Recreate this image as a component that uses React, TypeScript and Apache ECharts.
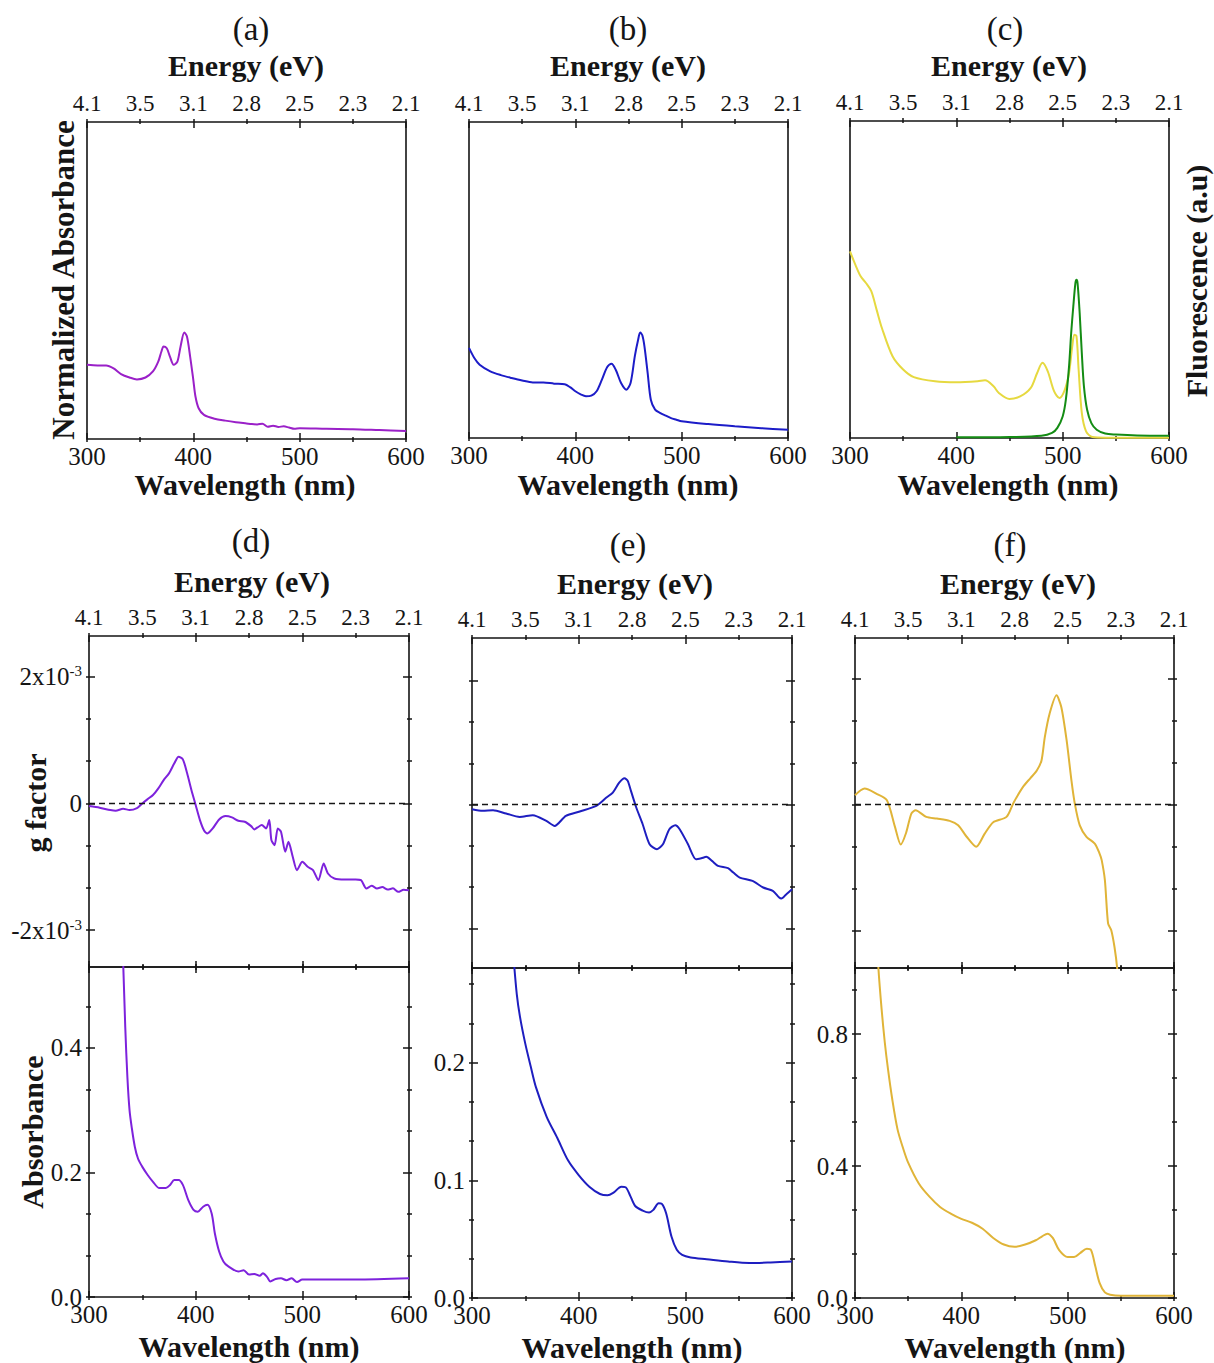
import React, { useEffect, useRef } from "react";
import * as echarts from "echarts";

const SERIF = "'Liberation Serif', 'Times New Roman', Times, serif";
const INK = "#151515";

// ---------- tick values / labels ----------
const energyTickWavelengths = [300, 350, 400, 450, 500, 550, 600];
const energyTickLabels = ["4.1", "3.5", "3.1", "2.8", "2.5", "2.3", "2.1"];
const gMajorTicks = [-2, 0, 2];
const gMajorLabels = ["-2x10", "0", "2x10"];
const gMajorSup = ["-3", "", "-3"];
const gMinorTicks = [-1.333, -0.667, 0.667, 1.333];
const absDMajor = [0, 0.2, 0.4];
const absDMinor = [0.0667, 0.1333, 0.2667, 0.3333, 0.4667];
const absEMajor = [0, 0.1, 0.2];
const absEMinor = [0.0333, 0.0667, 0.1333, 0.1667, 0.2333, 0.2667];
const absFMajor = [0, 0.4, 0.8];
const absFMinor = [0.1333, 0.2667, 0.5333, 0.6667, 0.9333];

// ---------- (a) normalized absorbance ----------
const wlA = [300, 310, 318, 325, 332, 340, 347, 355, 362, 367, 370, 372, 375, 378, 381.5, 385, 388, 391.5, 394, 397, 400, 402, 405, 410, 420, 430, 440, 450, 455, 460, 465, 470, 475, 480, 485, 490, 495, 500, 525, 550, 575, 600];
const absA = [0.234, 0.232, 0.232, 0.223, 0.205, 0.194, 0.188, 0.194, 0.213, 0.244, 0.276, 0.292, 0.286, 0.26, 0.234, 0.244, 0.292, 0.336, 0.323, 0.26, 0.186, 0.134, 0.097, 0.076, 0.064, 0.058, 0.053, 0.049, 0.047, 0.046, 0.048, 0.039, 0.042, 0.038, 0.04, 0.036, 0.032, 0.034, 0.032, 0.031, 0.028, 0.025];

// ---------- (b) normalized absorbance ----------
const wlB = [300, 305, 310, 320, 330, 340, 350, 360, 370, 380, 390, 395, 400, 405, 410, 415, 420, 425, 430, 434, 438, 443, 448, 452, 456, 459, 461, 463, 465, 468, 471, 475, 480, 485, 490, 495, 500, 525, 550, 575, 600];
const absB = [0.285, 0.253, 0.232, 0.211, 0.199, 0.19, 0.182, 0.176, 0.176, 0.172, 0.17, 0.161, 0.148, 0.138, 0.132, 0.134, 0.148, 0.185, 0.225, 0.235, 0.216, 0.174, 0.153, 0.175, 0.26, 0.31, 0.334, 0.325, 0.29, 0.206, 0.121, 0.09, 0.079, 0.071, 0.063, 0.058, 0.053, 0.044, 0.037, 0.031, 0.026];

// ---------- (c) absorbance (yellow) + fluorescence (green) ----------
const wlC = [300, 305, 310, 315, 320, 325, 330, 340, 350, 360, 380, 400, 420, 427, 435, 440, 450, 460, 470, 476, 481, 486, 492, 497, 502, 506, 509, 511, 513, 515, 518, 522, 528, 540, 570, 600];
const absC = [0.589, 0.547, 0.51, 0.489, 0.463, 0.405, 0.347, 0.258, 0.216, 0.192, 0.179, 0.176, 0.179, 0.182, 0.163, 0.142, 0.123, 0.131, 0.158, 0.205, 0.237, 0.21, 0.147, 0.126, 0.152, 0.205, 0.289, 0.326, 0.321, 0.216, 0.079, 0.021, 0.003, 0.001, 0.001, 0.001];
const wlG = [400, 450, 480, 490, 495, 500, 503, 506, 508, 510, 512, 513, 514, 516, 518, 520, 523, 527, 532, 540, 550, 570, 600];
const fluC = [0.002, 0.003, 0.007, 0.016, 0.032, 0.068, 0.121, 0.226, 0.331, 0.415, 0.489, 0.499, 0.489, 0.394, 0.268, 0.163, 0.089, 0.047, 0.026, 0.014, 0.011, 0.008, 0.007];

// ---------- (d) g factor (x1e-3) and absorbance ----------
const wlDg = [300, 310, 320, 325, 332, 338, 345, 350, 355, 360, 365, 370, 375, 380, 384, 388, 392, 396, 400, 404, 408, 411, 416, 422, 428, 434, 440, 446, 452, 455, 458, 462, 466, 469, 471, 474, 477, 480, 484, 487, 491, 495, 500, 505, 510, 515, 520, 524, 530, 540, 550, 555, 560, 565, 570, 575, 580, 585, 590, 595, 600];
const gD = [-0.042, -0.068, -0.105, -0.116, -0.084, -0.105, -0.074, 0, 0.068, 0.132, 0.237, 0.368, 0.474, 0.632, 0.737, 0.695, 0.474, 0.211, -0.026, -0.263, -0.432, -0.474, -0.395, -0.253, -0.2, -0.221, -0.274, -0.289, -0.358, -0.41, -0.379, -0.342, -0.395, -0.263, -0.579, -0.658, -0.395, -0.447, -0.763, -0.605, -0.842, -1.053, -0.921, -1.0, -1.053, -1.21, -0.947, -1.105, -1.184, -1.2, -1.2, -1.21, -1.342, -1.3, -1.342, -1.32, -1.358, -1.34, -1.395, -1.36, -1.368];
const wlDa = [330, 334, 336, 338, 340, 343, 346, 350, 355, 360, 366, 372, 376, 380, 384, 388, 393, 398, 402, 407, 411, 415, 418, 422, 426, 430, 440, 445, 450, 455, 460, 463, 467, 470, 475, 480, 485, 490, 495, 500, 550, 600];
const absD = [0.65, 0.433, 0.353, 0.3, 0.273, 0.241, 0.222, 0.209, 0.196, 0.185, 0.175, 0.175, 0.18, 0.188, 0.188, 0.18, 0.156, 0.14, 0.137, 0.145, 0.148, 0.134, 0.102, 0.073, 0.057, 0.05, 0.041, 0.043, 0.036, 0.037, 0.034, 0.038, 0.032, 0.025, 0.029, 0.03, 0.027, 0.03, 0.024, 0.028, 0.028, 0.03];

// ---------- (e) g factor (x1e-3) and absorbance ----------
const wlEg = [300, 310, 319.7, 332, 344.7, 357, 369.7, 377.5, 388, 401, 416.5, 426, 432, 438, 443, 446, 449, 454, 460, 466.5, 473.4, 479, 485, 490.6, 494.7, 502.5, 510, 515, 519.7, 525, 530.6, 540, 545, 551, 563, 573, 582, 588, 590, 594.7, 600];
const gE = [-0.075, -0.102, -0.092, -0.145, -0.2, -0.172, -0.264, -0.345, -0.183, -0.113, -0.022, 0.113, 0.194, 0.355, 0.425, 0.382, 0.221, -0.048, -0.318, -0.641, -0.721, -0.641, -0.398, -0.334, -0.398, -0.641, -0.883, -0.867, -0.845, -0.91, -0.99, -1.028, -1.098, -1.179, -1.233, -1.34, -1.394, -1.502, -1.518, -1.448, -1.367];
const wlEa = [338, 342, 345, 350, 355, 360, 370, 380, 390, 400, 410, 420, 427, 433, 440, 444, 448, 453, 460, 466, 470, 475, 478, 482, 487, 492, 497, 505, 520, 540, 560, 580, 600];
const absE = [0.3, 0.258, 0.239, 0.216, 0.197, 0.179, 0.154, 0.136, 0.117, 0.1045, 0.0946, 0.0884, 0.0873, 0.0898, 0.0946, 0.0941, 0.0876, 0.0782, 0.0743, 0.0726, 0.0749, 0.0805, 0.08, 0.072, 0.0523, 0.041, 0.0367, 0.0345, 0.033, 0.031, 0.0297, 0.0302, 0.031];

// ---------- (f) g factor (x1e-3) and absorbance ----------
const wlFg = [300, 309, 320, 330, 337.6, 343, 348, 353, 357, 367, 377, 389, 397, 405, 414, 422, 430, 442.5, 449, 458, 465, 471, 475.4, 478.5, 483, 489.5, 494, 499, 503.6, 506.7, 511.4, 517.7, 525.5, 530, 532, 535, 538, 541, 544, 546.5, 549];
const gF = [0.148, 0.253, 0.174, 0.069, -0.354, -0.633, -0.45, -0.142, -0.09, -0.195, -0.222, -0.259, -0.327, -0.51, -0.67, -0.46, -0.28, -0.195, 0.026, 0.28, 0.42, 0.54, 0.7, 1.07, 1.44, 1.731, 1.546, 1.02, 0.375, 0.016, -0.33, -0.512, -0.618, -0.776, -0.881, -1.198, -1.884, -1.99, -2.253, -2.586, -3.2];
const wlFa = [320, 322, 325, 328, 331, 335, 340, 345, 350, 360, 370, 380, 390, 400, 410, 420, 430, 440, 450, 460, 470, 476, 481, 486, 492, 500, 506, 512, 518, 522, 526, 530, 535, 540, 550, 600];
const absF = [1.12, 1.0, 0.876, 0.775, 0.694, 0.603, 0.511, 0.456, 0.41, 0.347, 0.307, 0.276, 0.256, 0.24, 0.228, 0.21, 0.182, 0.162, 0.155, 0.162, 0.175, 0.187, 0.195, 0.182, 0.145, 0.124, 0.124, 0.137, 0.149, 0.145, 0.096, 0.046, 0.017, 0.01, 0.007, 0.007];

const COLOR_A = "#9a20c8";
const COLOR_B = "#1c1cc8";
const COLOR_C_ABS = "#e6d940";
const COLOR_C_FL = "#148c14";
const COLOR_D = "#7d22dc";
const COLOR_E = "#1e1ec0";
const COLOR_F = "#e0b438";

function buildOption() {
  const grid: any[] = [];
  const xAxis: any[] = [];
  const yAxis: any[] = [];
  const series: any[] = [];
  const graphic: any[] = [];
  const tickLine = { color: INK, width: 1.5 };
  const noLine = { show: false, onZero: false };

  const addGrid = (left: number, top: number, width: number, height: number) => {
    grid.push({ left, top, width, height, show: true, borderColor: INK, borderWidth: 1.6, backgroundColor: "transparent" });
    return grid.length - 1;
  };
  const addWlAxis = (gi: number, position: string, labels: boolean) => {
    xAxis.push({
      type: "value", gridIndex: gi, position, min: 300, max: 600, interval: 100, offset: 3,
      axisLine: noLine, splitLine: { show: false }, minorSplitLine: { show: false },
      axisTick: { show: true, inside: true, length: 9, lineStyle: tickLine },
      minorTick: { show: true, splitNumber: 2, length: 5, lineStyle: tickLine },
      axisLabel: { show: labels, margin: 4, fontSize: 25, lineHeight: 20, fontFamily: SERIF, color: INK, showMinLabel: true, showMaxLabel: true },
    });
    return xAxis.length - 1;
  };
  const addEnergyAxis = (gi: number) => {
    xAxis.push({
      type: "value", gridIndex: gi, position: "top", min: 300, max: 600, interval: 50, offset: 3,
      axisLine: noLine, axisTick: { show: false }, splitLine: { show: false },
      axisLabel: {
        show: true, margin: 6, fontSize: 23, lineHeight: 20, fontFamily: SERIF, color: INK, showMinLabel: true, showMaxLabel: true,
        formatter: (v: number) => {
          const i = energyTickWavelengths.indexOf(Math.round(v));
          return i >= 0 ? energyTickLabels[i] : "";
        },
      },
    });
  };
  const addHiddenY = (gi: number, min: number, max: number) => {
    yAxis.push({ type: "value", gridIndex: gi, min, max, show: false, axisLine: noLine });
    return yAxis.length - 1;
  };
  const addTickY = (gi: number, position: string, min: number, max: number, major: number[], minor: number[], label: any) => {
    yAxis.push({
      type: "value", gridIndex: gi, position, min, max, offset: 3,
      axisLine: noLine, splitLine: { show: false },
      axisTick: { show: true, inside: true, length: 9, customValues: major, lineStyle: tickLine },
      axisLabel: label
        ? { show: true, customValues: major, margin: 4, fontSize: 25, lineHeight: 20, fontFamily: SERIF, color: INK, ...label }
        : { show: false },
    });
    const idx = yAxis.length - 1;
    yAxis.push({
      type: "value", gridIndex: gi, position, min, max, offset: 3,
      axisLine: noLine, splitLine: { show: false },
      axisTick: { show: true, inside: true, length: 5, customValues: minor, lineStyle: tickLine },
      axisLabel: { show: false },
    });
    return idx;
  };
  const addLine = (xi: number, yi: number, wl: number[], vals: number[], color: string, smooth = 0.3, zero = false) => {
    const s: any = {
      type: "line", xAxisIndex: xi, yAxisIndex: yi, data: wl.map((w, i) => [w, vals[i]]),
      symbol: "none", showSymbol: false, smooth, clip: true, silent: true,
      lineStyle: { color, width: 2 },
    };
    if (zero) {
      s.markLine = {
        silent: true, symbol: ["none", "none"], label: { show: false },
        lineStyle: { type: [6, 4], color: INK, width: 1.3 }, data: [{ yAxis: 0 }],
      };
    }
    series.push(s);
  };
  const txt = (text: string, x: number, y: number, size: number, bold: boolean, rotation = 0) =>
    graphic.push({
      type: "text", x, y, rotation, silent: true,
      style: { text, fontSize: size, lineHeight: Math.round(size * 0.8), fontFamily: SERIF, fontWeight: bold ? "bold" : "normal", fill: INK, align: "center", verticalAlign: "middle" },
    });

  const gLabel = {
    formatter: (v: number) => {
      const i = gMajorTicks.findIndex((t) => Math.abs(t - v) < 1e-6);
      if (i < 0) return "";
      return gMajorSup[i] ? `{n|${gMajorLabels[i]}}{s|${gMajorSup[i]}}` : `{n|${gMajorLabels[i]}}`;
    },
    rich: {
      n: { fontSize: 25, fontFamily: SERIF, color: INK, lineHeight: 26 },
      s: { fontSize: 15, fontFamily: SERIF, color: INK, lineHeight: 15, verticalAlign: "top" },
    },
  };
  const absLabel = { formatter: (v: number) => v.toFixed(1) };

  // ----- top row -----
  const topPanels = [
    { left: 87, top: 122, width: 319, height: 317 },
    { left: 469, top: 122, width: 319, height: 316 },
    { left: 850, top: 121, width: 319, height: 317 },
  ];
  const topXi: number[] = [];
  const topYi: number[] = [];
  topPanels.forEach((p) => {
    const gi = addGrid(p.left, p.top, p.width, p.height);
    topXi.push(addWlAxis(gi, "bottom", true));
    addWlAxis(gi, "top", false);
    addEnergyAxis(gi);
    topYi.push(addHiddenY(gi, 0, 1));
  });
  addLine(topXi[0], topYi[0], wlA, absA, COLOR_A);
  addLine(topXi[1], topYi[1], wlB, absB, COLOR_B);
  addLine(topXi[2], topYi[2], wlC, absC, COLOR_C_ABS);
  addLine(topXi[2], topYi[2], wlG, fluC, COLOR_C_FL);

  // ----- bottom row: CD (g factor) over absorbance -----
  const lower = [
    { left: 89, width: 320, gTop: 636, gH: 331, aTop: 967, aH: 330, gRange: [-2.58, 2.64], aRange: [0, 0.53], major: absDMajor, minor: absDMinor, gLab: true, wlg: wlDg, g: gD, wla: wlDa, a: absD, color: COLOR_D },
    { left: 472, width: 320, gTop: 638, gH: 330, aTop: 968, aH: 330, gRange: [-2.64, 2.69], aRange: [0, 0.2805], major: absEMajor, minor: absEMinor, gLab: false, wlg: wlEg, g: gE, wla: wlEa, a: absE, color: COLOR_E },
    { left: 855, width: 319, gTop: 638, gH: 330, aTop: 968, aH: 330, gRange: [-2.59, 2.64], aRange: [0, 1.0], major: absFMajor, minor: absFMinor, gLab: false, wlg: wlFg, g: gF, wla: wlFa, a: absF, color: COLOR_F },
  ];
  lower.forEach((p) => {
    const gi = addGrid(p.left, p.gTop, p.width, p.gH);
    const xi = addWlAxis(gi, "bottom", false);
    addWlAxis(gi, "top", false);
    addEnergyAxis(gi);
    const yi = addTickY(gi, "left", p.gRange[0], p.gRange[1], gMajorTicks, gMinorTicks, p.gLab ? gLabel : null);
    addTickY(gi, "right", p.gRange[0], p.gRange[1], gMajorTicks, gMinorTicks, null);
    addLine(xi, yi, p.wlg, p.g, p.color, 0.25, true);

    const ga = addGrid(p.left, p.aTop, p.width, p.aH);
    const xa = addWlAxis(ga, "bottom", true);
    addWlAxis(ga, "top", false);
    const ya = addTickY(ga, "left", p.aRange[0], p.aRange[1], p.major, p.minor, absLabel);
    addTickY(ga, "right", p.aRange[0], p.aRange[1], p.major, p.minor, null);
    addLine(xa, ya, p.wla, p.a, p.color, 0.3);
  });

  // ----- texts -----
  txt("(a)", 251, 29, 33, false);
  txt("(b)", 628, 29, 33, false);
  txt("(c)", 1005, 29, 33, false);
  txt("(d)", 251, 541, 33, false);
  txt("(e)", 628, 545, 33, false);
  txt("(f)", 1010, 545, 33, false);

  txt("Energy (eV)", 246, 65, 30, true);
  txt("Energy (eV)", 628, 65, 30, true);
  txt("Energy (eV)", 1009, 65, 30, true);
  txt("Energy (eV)", 252, 581, 30, true);
  txt("Energy (eV)", 635, 583, 30, true);
  txt("Energy (eV)", 1018, 583, 30, true);

  txt("Wavelength (nm)", 245, 484, 30, true);
  txt("Wavelength (nm)", 628, 484, 30, true);
  txt("Wavelength (nm)", 1008, 484, 30, true);
  txt("Wavelength (nm)", 249, 1346, 30, true);
  txt("Wavelength (nm)", 632, 1347, 30, true);
  txt("Wavelength (nm)", 1015, 1347, 30, true);

  txt("Normalized Absorbance", 63, 280, 31, true, Math.PI / 2);
  txt("Fluorescence (a.u)", 1196, 281, 30, true, Math.PI / 2);
  txt("g factor", 35, 803, 30, true, Math.PI / 2);
  txt("Absorbance", 32, 1132, 30, true, Math.PI / 2);

  return { animation: false, backgroundColor: "#ffffff", grid, xAxis, yAxis, series, graphic };
}

export default function App() {
  const ref = useRef<HTMLDivElement>(null);
  useEffect(() => {
    document.body.style.margin = "0";
    if (!ref.current) return;
    const chart = echarts.init(ref.current, undefined, { renderer: "svg" });
    chart.setOption(buildOption() as any);
    return () => chart.dispose();
  }, []);
  return <div ref={ref} style={{ width: 1214, height: 1363, background: "#fff" }} />;
}
